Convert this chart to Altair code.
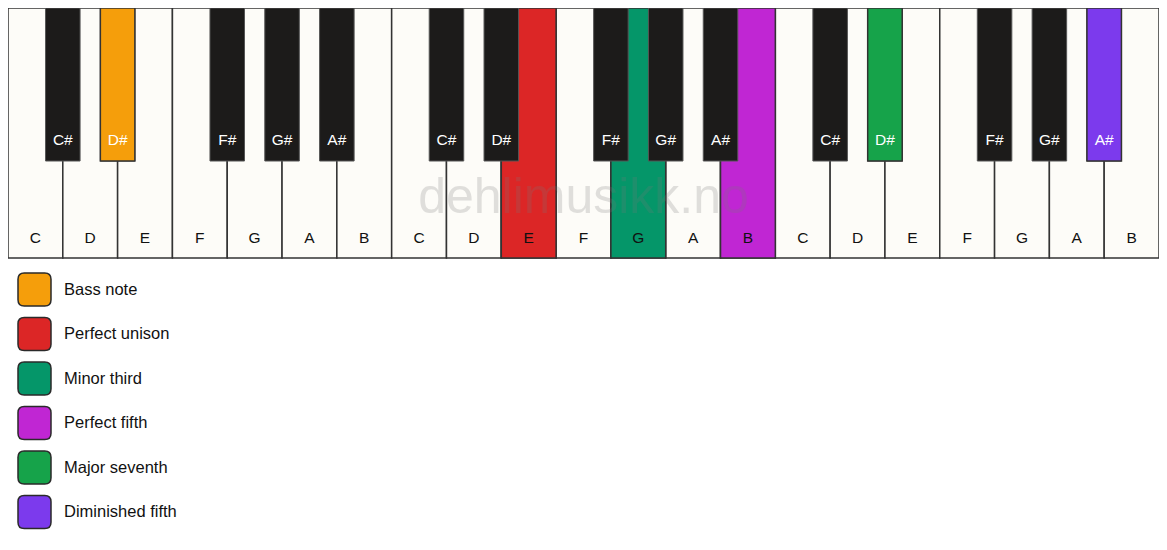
import pandas as pd
import altair as alt

# keyboard content
white_notes = ["C", "D", "E", "F", "G", "A", "B"]
black_notes = ["C#", "D#", "F#", "G#", "A#"]
black_after = [1, 2, 4, 5, 6]          # white-key boundary each sharp sits on
octaves = [0, 1, 2]

# highlighted keys: note, octave, role
hl_notes = ["D#", "E", "G", "B", "D#", "A#"]
hl_octaves = [0, 1, 1, 1, 2, 2]
roles = ["Bass note", "Perfect unison", "Minor third", "Perfect fifth",
         "Major seventh", "Diminished fifth"]
role_colors = ["#F59E0B", "#DC2626", "#059669", "#C026D3", "#16A34A", "#7C3AED"]

W, H = 1151, 534
FONT = "Liberation Sans"

# build tables
white_rows = []
for o in octaves:
    for i, n in enumerate(white_notes):
        white_rows.append({"note": n, "octave": o, "x": o * 7 + i, "x2": o * 7 + i + 1})
white = pd.DataFrame(white_rows)

black_rows = []
for o in octaves:
    for n, b in zip(black_notes, black_after):
        c = o * 7 + b
        black_rows.append({"note": n, "octave": o, "x": c - 0.315, "x2": c + 0.315, "xc": c})
black = pd.DataFrame(black_rows)

hl = pd.DataFrame({"note": hl_notes, "octave": hl_octaves, "role": roles})
white_hl = white.merge(hl, on=["note", "octave"])
black_hl = black.merge(hl, on=["note", "octave"])
white["xc"] = white["x"] + 0.5

xs = alt.Scale(domain=[0, 21], range=[0, W])
ys = alt.Scale(domain=[0, H], range=[0, H])
X = alt.X("x:Q", scale=xs, axis=None)
color = alt.Color("role:N",
                  scale=alt.Scale(domain=roles, range=role_colors),
                  legend=alt.Legend(title=None, orient="none", legendX=9, legendY=264,
                                    direction="vertical",
                                    symbolType="M-0.62,-1H0.62Q1,-1 1,-0.62V0.62Q1,1 0.62,1H-0.62Q-1,1 -1,0.62V-0.62Q-1,-1 -0.62,-1Z",
                                    symbolSize=1089, symbolStrokeColor="#2a2a2a",
                                    symbolStrokeWidth=1.5, symbolOpacity=1,
                                    labelFont=FONT, labelFontSize=16.5, labelColor="#111",
                                    labelOffset=12, rowPadding=5.5, padding=0,
                                    labelLimit=400))

white_keys = alt.Chart(white).mark_rect(fill="#FDFCF8", stroke="#333", strokeWidth=1.5).encode(
    x=X, x2="x2:Q", y=alt.Y("y0:Q", scale=ys, axis=None), y2="y1:Q"
).transform_calculate(y0="0", y1="250")

white_colored = alt.Chart(white_hl).mark_rect(stroke="#333", strokeWidth=1.5).encode(
    x=X, x2="x2:Q", y=alt.Y("y0:Q", scale=ys, axis=None), y2="y1:Q", color=color
).transform_calculate(y0="0", y1="250")

black_keys = alt.Chart(black).mark_rect(fill="#1C1B1A", stroke="#555", strokeWidth=1).encode(
    x=X, x2="x2:Q", y=alt.Y("y0:Q", scale=ys, axis=None), y2="y1:Q"
).transform_calculate(y0="0", y1="153")

black_colored = alt.Chart(black_hl).mark_rect(stroke="#333", strokeWidth=1.5).encode(
    x=X, x2="x2:Q", y=alt.Y("y0:Q", scale=ys, axis=None), y2="y1:Q", color=color
).transform_calculate(y0="0", y1="153")

white_text = alt.Chart(white).mark_text(font=FONT, fontSize=15.5, color="#111").encode(
    x=alt.X("xc:Q", scale=xs, axis=None), y=alt.Y("ty:Q", scale=ys, axis=None), text="note:N"
).transform_calculate(ty="230")

black_text = alt.Chart(black).mark_text(font=FONT, fontSize=15.5, color="white").encode(
    x=alt.X("xc:Q", scale=xs, axis=None), y=alt.Y("ty:Q", scale=ys, axis=None), text="note:N"
).transform_calculate(ty="132")

watermark = alt.Chart(pd.DataFrame({"t": ["dehlimusikk.no"], "x": [10.5], "y": [190]})).mark_text(
    font=FONT, fontSize=50, color="#777", opacity=0.22
).encode(x=alt.X("x:Q", scale=xs, axis=None), y=alt.Y("y:Q", scale=ys, axis=None), text="t:N")

chart = alt.layer(
    white_keys, white_colored, black_keys, black_colored, white_text, black_text, watermark
).properties(
    width=W, height=H, padding=0, autosize=alt.AutoSizeParams(type="none")
).configure_view(stroke=None)

chart.save("out.html", embed_options={"renderer": "svg", "actions": False})
